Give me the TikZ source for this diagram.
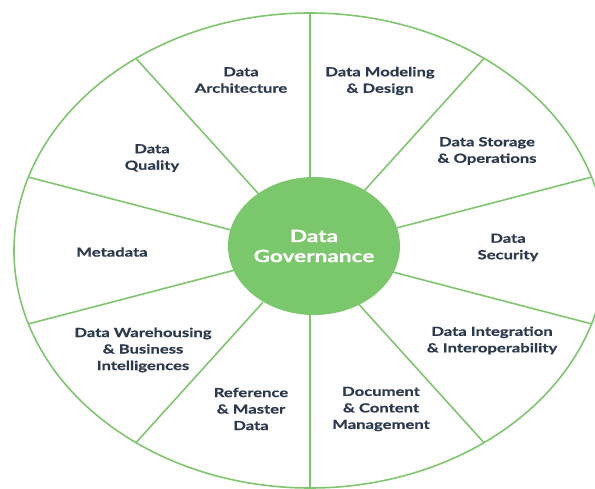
\documentclass[tikz,border=0pt]{standalone}
\usepackage{fontspec}
\newfontfamily\lbl{Lato}[FakeStretch=1.33, BoldFeatures={FakeBold=0.6}]
\usetikzlibrary{shapes.geometric}
\definecolor{wheelgreen}{HTML}{7FC66F}
\definecolor{hubgreen}{HTML}{7BC86C}
\definecolor{labelnavy}{HTML}{2C3A4F}
\tikzset{
  rim/.style={draw=wheelgreen, line width=1.6pt},
  spoke/.style={draw=wheelgreen, line width=1.6pt},
  hub/.style={ellipse, fill=hubgreen, minimum width=172pt, minimum height=138pt,
    inner sep=0pt, align=center, text=white,
    font=\lbl\bfseries\fontsize{17}{20}\selectfont},
  area/.style={align=center, text=labelnavy, inner sep=0pt,
    font=\lbl\bfseries\fontsize{12.5}{16.5}\selectfont}
}
\begin{document}
\begin{tikzpicture}[x=1pt, y=-1pt]
  \useasboundingbox (0,0) rectangle (595,489);
  \clip (0,0) rectangle (595,489);
  \fill[white] (0,0) rectangle (595,489);

  % wheel centre and rim
  \coordinate (oc) at (310,250.5);
  \draw[rim] (oc) ellipse [x radius=296pt, y radius=237.5pt];

  % ten spokes, one every 36 degrees of the stretched circle
  \foreach \a [count=\i] in {90,54,18,-18,-54,-90,-126,-162,162,126} {
    \coordinate (in\i) at ([shift={(\a:80pt and 64pt)}]oc);
    \coordinate (out\i) at ([shift={(\a:296pt and 237.5pt)}]oc);
    \draw[spoke] (in\i) -- (out\i);
  }

  % hub
  \node[hub] (gov) at (314,246) {Data\\Governance};

  % knowledge areas
  \node[area] (arch) at (241,80)  {Data\\Architecture};
  \node[area] (model) at (380,81) {Data Modeling\\\& Design};
  \node[area] (store) at (487,151) {Data Storage\\\& Operations};
  \node[area] (sec) at (508,247.5) {Data\\Security};
  \node[area] (integ) at (492,340.5) {Data Integration\\\& Interoperability};
  \node[area] (doc) at (381,409) {Document\\\& Content\\Management};
  \node[area] (ref) at (251,409) {Reference\\\& Master\\Data};
  \node[area] (dwbi) at (143,350) {Data Warehousing\\\& Business\\Intelligences};
  \node[area] (meta) at (112,252) {Metadata};
  \node[area] (qual) at (152,158) {Data\\Quality};
\end{tikzpicture}
\end{document}
